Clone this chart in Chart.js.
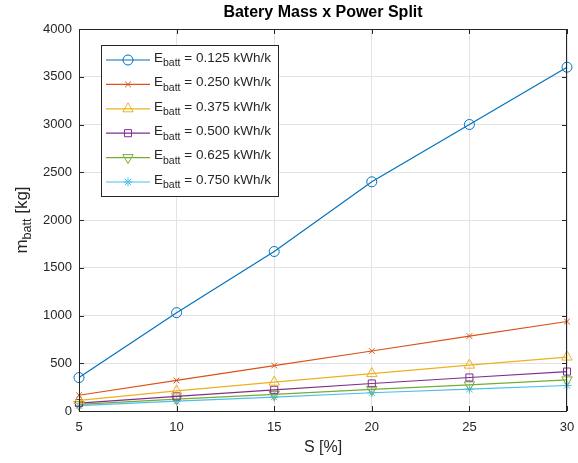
<!DOCTYPE html>
<html><head><meta charset="utf-8">
<script src="https://cdn.jsdelivr.net/npm/chart.js@4"></script>
<style>html,body{margin:0;padding:0;background:#fff}</style>
</head><body>
<canvas id="c" width="578" height="463"></canvas>
<script>
// Power split S [%] on the x axis
const splitPct = [5, 10, 15, 20, 25, 30];
// Specific battery energy for each curve (kWh/k)
const energyLabels = ['0.125', '0.250', '0.375', '0.500', '0.625', '0.750'];
// Battery mass [kg] for each specific energy
const mass0125 = [350, 1030, 1670, 2400, 3000, 3600];
const mass0250 = [165, 320, 476, 628, 785, 937];
const mass0375 = [111, 210, 302, 392, 480, 565];
const mass0500 = [83, 153, 222, 288, 351, 413];
const mass0625 = [69, 125, 174, 226, 274, 326];
const mass0750 = [56, 104, 146, 191, 229, 267];
// Axis ticks
const xTicks = [5, 10, 15, 20, 25, 30];
const yTicks = [0, 500, 1000, 1500, 2000, 2500, 3000, 3500, 4000];

const seriesMass = [mass0125, mass0250, mass0375, mass0500, mass0625, mass0750];
const colors = ['#0072BD', '#D95319', '#EDB120', '#7E2F8E', '#77AC30', '#4DBEEE'];
const markers = [
  {pointStyle: 'circle', radius: 5, rotation: 0},
  {pointStyle: 'crossRot', radius: 4, rotation: 0},
  {pointStyle: 'triangle', radius: 6, rotation: 0},
  {pointStyle: 'rect', radius: 5, rotation: 0},
  {pointStyle: 'triangle', radius: 6, rotation: 180},
  {pointStyle: 'star', radius: 4.5, rotation: 0}
];
const FONT = '"Liberation Sans", Arial, Helvetica, sans-serif';
const TEXT = '#262626';

const datasets = seriesMass.map((vals, i) => ({
  label: 'E_batt = ' + energyLabels[i] + ' kWh/k',
  data: vals.map((v, k) => ({x: splitPct[k], y: v})),
  borderColor: colors[i],
  backgroundColor: 'rgba(0,0,0,0)',
  pointBorderColor: colors[i],
  pointBackgroundColor: 'rgba(0,0,0,0)',
  pointStyle: markers[i].pointStyle,
  pointRadius: markers[i].radius,
  pointRotation: markers[i].rotation,
  pointBorderWidth: 1,
  borderWidth: 1.2,
  tension: 0,
  clip: false
}));

// Draws text with a subscript part, returns end x
function subText(ctx, x, y, base, sub, rest, size, subSize, drop) {
  ctx.font = size + 'px ' + FONT;
  ctx.fillText(base, x, y);
  x += ctx.measureText(base).width;
  ctx.font = subSize + 'px ' + FONT;
  ctx.fillText(sub, x, y + drop);
  x += ctx.measureText(sub).width;
  ctx.font = size + 'px ' + FONT;
  ctx.fillText(rest, x, y);
  return x + ctx.measureText(rest).width;
}

function subWidth(ctx, base, sub, rest, size, subSize) {
  ctx.font = size + 'px ' + FONT;
  let w = ctx.measureText(base + rest).width;
  ctx.font = subSize + 'px ' + FONT;
  return w + ctx.measureText(sub).width;
}

const decor = {
  id: 'decor',
  afterDraw(chart) {
    const ctx = chart.ctx;
    const a = chart.chartArea;
    const xs = chart.scales.x, ys = chart.scales.y;
    ctx.save();
    // axes box
    ctx.strokeStyle = TEXT;
    ctx.lineWidth = 1;
    ctx.strokeRect(Math.round(a.left) + 0.5, Math.round(a.top) + 0.5,
                   Math.round(a.right - a.left) - 1, Math.round(a.bottom - a.top));
    // inward tick marks on all four sides
    ctx.beginPath();
    xTicks.forEach(t => {
      const px = Math.round(xs.getPixelForValue(t)) + 0.5;
      ctx.moveTo(px, a.bottom); ctx.lineTo(px, a.bottom - 5);
      ctx.moveTo(px, a.top); ctx.lineTo(px, a.top + 5);
    });
    yTicks.forEach(t => {
      const py = Math.round(ys.getPixelForValue(t)) + 0.5;
      ctx.moveTo(a.left, py); ctx.lineTo(a.left + 5, py);
      ctx.moveTo(a.right, py); ctx.lineTo(a.right - 5, py);
    });
    ctx.stroke();

    // title
    ctx.fillStyle = '#000';
    ctx.font = 'bold 16px ' + FONT;
    ctx.textAlign = 'center';
    ctx.textBaseline = 'middle';
    ctx.fillText('Batery Mass x Power Split', (a.left + a.right) / 2, 13);

    // x axis title
    ctx.fillStyle = TEXT;
    ctx.font = '16px ' + FONT;
    ctx.fillText('S [%]', (a.left + a.right) / 2, 448);

    // y axis title with subscript, rotated
    ctx.save();
    ctx.translate(22, (a.top + a.bottom) / 2);
    ctx.rotate(-Math.PI / 2);
    ctx.textAlign = 'left';
    ctx.textBaseline = 'middle';
    const w = subWidth(ctx, 'm', 'batt', ' [kg]', 17, 12.5);
    subText(ctx, -w / 2, 0, 'm', 'batt', ' [kg]', 17, 12.5, 6);
    ctx.restore();

    // legend
    const lx = 101, ly = 45, lw = 177, lh = 151;
    ctx.fillStyle = '#fff';
    ctx.fillRect(lx, ly, lw, lh);
    ctx.strokeStyle = TEXT;
    ctx.lineWidth = 1;
    ctx.strokeRect(lx + 0.5, ly + 0.5, lw, lh);
    ctx.textAlign = 'left';
    ctx.textBaseline = 'middle';
    chart.data.datasets.forEach((ds, i) => {
      const ry = 60 + i * 24.4;
      ctx.strokeStyle = ds.borderColor;
      ctx.lineWidth = 1.2;
      ctx.beginPath();
      ctx.moveTo(106, ry); ctx.lineTo(150, ry);
      ctx.stroke();
      ctx.fillStyle = 'rgba(0,0,0,0)';
      ctx.lineWidth = 1;
      Chart.helpers.drawPoint(ctx, {
        pointStyle: markers[i].pointStyle,
        radius: markers[i].radius,
        rotation: markers[i].rotation,
        borderWidth: 1
      }, 128, ry);
      ctx.fillStyle = TEXT;
      subText(ctx, 154, ry - 2, 'E', 'batt', ' = ' + energyLabels[i] + ' kWh/k', 13.5, 10.5, 5.5);
    });
    ctx.restore();
  }
};

const chart = new Chart(document.getElementById('c'), {
  type: 'line',
  data: {datasets},
  options: {
    responsive: false,
    animation: false,
    layout: {padding: {top: 29, right: 11, left: 0, bottom: 0}},
    plugins: {legend: {display: false}, title: {display: false}, tooltip: {enabled: false}},
    scales: {
      x: {
        type: 'linear', min: 5, max: 30,
        afterBuildTicks: s => { s.ticks = xTicks.map(v => ({value: v})); },
        afterFit: s => { s.height = 52; s.paddingLeft = 0; s.paddingRight = 0; },
        grid: {color: '#e3e3e3', drawTicks: false, lineWidth: 1},
        border: {display: false},
        ticks: {color: TEXT, font: {size: 13, family: FONT}, padding: 9, maxRotation: 0}
      },
      y: {
        min: 0, max: 4000,
        afterBuildTicks: s => { s.ticks = yTicks.map(v => ({value: v})); },
        afterFit: s => { s.width = 79; s.paddingTop = 0; s.paddingBottom = 0; },
        grid: {color: '#e3e3e3', drawTicks: false, lineWidth: 1},
        border: {display: false},
        ticks: {color: TEXT, font: {size: 13, family: FONT}, padding: 7, callback: v => String(v)}
      }
    }
  },
  plugins: [decor]
});
</script>
</body></html>
